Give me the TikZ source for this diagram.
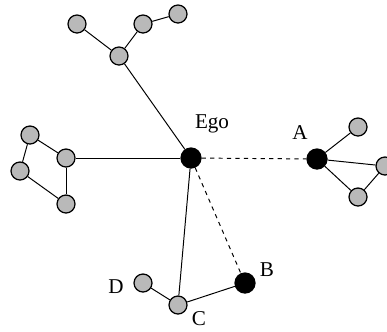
\documentclass[tikz,border=0pt]{standalone}
\usepackage{fontspec}
\setmainfont{Liberation Serif}
\usetikzlibrary{positioning}

\begin{document}
\begin{tikzpicture}[x=0.025cm,y=-0.025cm,
  every node/.style={font=\fontsize{15}{18}\selectfont},
  alter/.style={circle,draw,line width=0.9pt,fill=gray!55,minimum size=0.45cm,inner sep=0pt},
  ego/.style={circle,draw,line width=0.9pt,fill=black,minimum size=0.5cm,inner sep=0pt},
  tie/.style={line width=0.7pt},
  weak/.style={line width=0.7pt,dashed}]
\useasboundingbox (0,0) rectangle (387,331);
% ego and direct ties
\node[ego] (ego) at (191,158) {};
\node[ego] (a) at (317,159) {};
\node[ego] (b) at (245,283) {};
\node[alter] (c) at (178,305) {};
\node[alter] (d) at (143,283) {};
% upper cluster
\node[alter] (u1) at (119,56) {};
\node[alter] (u2) at (77,24) {};
\node[alter] (u3) at (143,24) {};
\node[alter] (u4) at (178,14) {};
% left cluster
\node[alter] (l1) at (66,158) {};
\node[alter] (l2) at (30,135) {};
\node[alter] (l3) at (20,171) {};
\node[alter] (l4) at (66,204) {};
% right cluster
\node[alter] (r1) at (358,127) {};
\node[alter] (r2) at (385,166) {};
\node[alter] (r3) at (358,197) {};
% labels
\node (egolbl) at (212,124) {Ego};
\node (albl) at (300,133) {A};
\node (blbl) at (267,270) {B};
\node (clbl) at (199,319) {C};
\node (dlbl) at (116,287) {D};
% ties
\draw[tie] (ego) -- (u1);
\draw[tie] (u1) -- (u2);
\draw[tie] (u1) -- (u3);
\draw[tie] (u3) -- (u4);
\draw[tie] (ego) -- (l1);
\draw[tie] (l1) -- (l2);
\draw[tie] (l2) -- (l3);
\draw[tie] (l3) -- (l4);
\draw[tie] (l1) -- (l4);
\draw[weak] (ego) -- (a);
\draw[tie] (a) -- (r1);
\draw[tie] (a) -- (r2);
\draw[tie] (a) -- (r3);
\draw[tie] (r2) -- (r3);
\draw[tie] (ego) -- (c);
\draw[weak] (ego) -- (b);
\draw[tie] (c) -- (b);
\draw[tie] (c) -- (d);
\end{tikzpicture}
\end{document}
